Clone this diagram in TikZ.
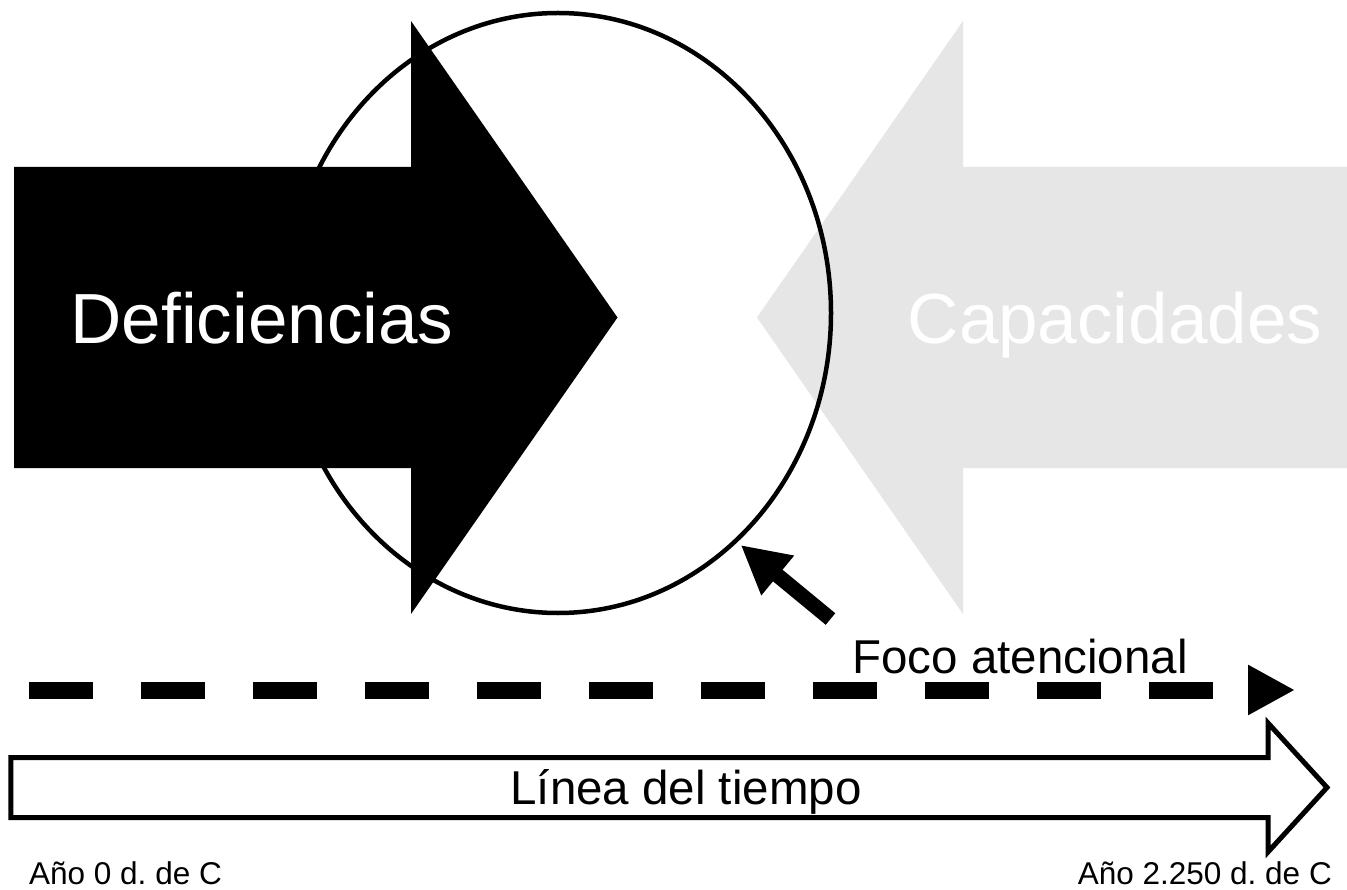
\documentclass[tikz,border=0pt]{standalone}
\usepackage{fontspec}
\setmainfont{Liberation Sans}
\usetikzlibrary{arrows.meta}
\definecolor{lightgr}{RGB}{230,230,230}
\frenchspacing
\begin{document}
\begin{tikzpicture}[x=1pt,y=-1pt,
  bigtext/.style={font=\fontsize{71}{80}\selectfont, text=white, inner sep=0pt, anchor=base},
  midtext/.style={font=\fontsize{47.5}{55}\selectfont, inner sep=0pt, anchor=base},
  smalltext/.style={font=\fontsize{31.5}{38}\selectfont, inner sep=0pt},
  focus/.style={draw=black, line width=4.5pt},
  pointer/.style={line width=15pt, -{Triangle[length=48pt,width=48pt]}},
  dashline/.style={line width=17pt, dash pattern=on 64pt off 48pt, -{Triangle[length=47pt,width=47pt]}},
  timeline/.style={draw=black, line width=5pt, fill=white, line join=miter, miter limit=10}]
\clip (0,0) rectangle (1347,890);
\fill[white] (0,0) rectangle (1347,890);
% gray arrow (Capacidades)
\fill[lightgr] (1360,167) -- (963,167) -- (963,21) -- (757,317.5) -- (963,614) -- (963,468) -- (1360,468) -- cycle;
% attentional focus ellipse
\draw[focus] (558,313) ellipse [x radius=273, y radius=300];
% black arrow (Deficiencias)
\fill[black] (14,167) -- (411,167) -- (411,21) -- (617.5,317.5) -- (411,614) -- (411,468) -- (14,468) -- cycle;
\node[bigtext] (def) at (262,343.5) {Deficiencias};
\node[bigtext] (cap) at (1115,343.5) {Capacidades};
% pointer to the focus
\coordinate (ptail) at (830.5,619);
\coordinate (ptip) at (740.7,545);
\draw[pointer] (ptail) -- (ptip);
\node[midtext] (foco) at (1020,673) {Foco atencional};
% dashed arrow
\coordinate (dstart) at (29,690);
\coordinate (dend) at (1295,690);
\draw[dashline] (dstart) -- (dend);
% time line arrow
\draw[timeline] (10.8,757.5) -- (1268,757.5) -- (1268,723) -- (1327,787.5) -- (1268,852) -- (1268,817.5) -- (10.8,817.5) -- cycle;
\node[midtext] (linea) at (686,804) {Línea del tiempo};
\node[smalltext, anchor=base west] (ano0) at (29,884) {Año 0 d. de C};
\node[smalltext, anchor=base east] (ano2) at (1332,884) {Año 2.250 d. de C};
\end{tikzpicture}
\end{document}
